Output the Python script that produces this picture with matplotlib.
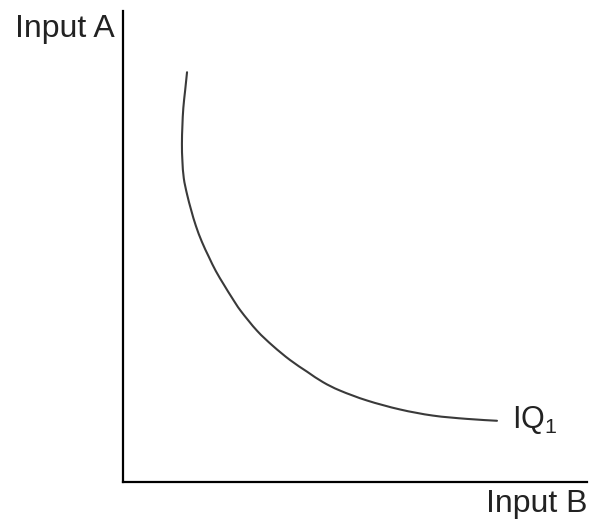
import matplotlib
matplotlib.use("Agg")
import matplotlib.pyplot as plt
import numpy as np
from matplotlib.path import Path
from matplotlib.patches import PathPatch

plt.rcParams['font.family'] = ['Liberation Sans', 'DejaVu Sans']
plt.rcParams['mathtext.fontset'] = 'custom'
plt.rcParams['mathtext.rm'] = 'Liberation Sans'
plt.rcParams['mathtext.it'] = 'Liberation Sans'

# Isoquant IQ1 (Input B on x, Input A on y), arbitrary units
input_b = [1.38, 1.34, 1.30, 1.28, 1.27, 1.28, 1.31, 1.38, 1.47, 1.57, 1.70, 1.85,
           2.00, 2.18, 2.35, 2.54, 2.89, 3.23, 3.60, 3.97, 4.31, 4.68, 5.26, 5.97,
           6.68, 7.41, 8.06]
input_a = [8.70, 8.32, 7.94, 7.56, 7.18, 6.82, 6.45, 6.11, 5.77, 5.44, 5.10, 4.78,
           4.48, 4.18, 3.91, 3.63, 3.21, 2.89, 2.59, 2.34, 2.12, 1.94, 1.73, 1.54,
           1.41, 1.34, 1.30]
curve_label = 'IQ$_\\mathregular{1}$'
x_label = 'Input B'
y_label = 'Input A'

fig = plt.figure(figsize=(5.94, 5.27), dpi=100)
ax = fig.add_axes([123 / 594, 45 / 527, 464 / 594, 471 / 527])
ax.set_xlim(0, 10)
ax.set_ylim(0, 10)

# smooth curve through the read points (Catmull-Rom rendered as cubic Beziers)
pts = np.column_stack([input_b, input_a])
verts = [pts[0]]
codes = [Path.MOVETO]
n = len(pts)
for i in range(n - 1):
    p0 = pts[max(i - 1, 0)]
    p1 = pts[i]
    p2 = pts[i + 1]
    p3 = pts[min(i + 2, n - 1)]
    c1 = p1 + (p2 - p0) / 6.0
    c2 = p2 - (p3 - p1) / 6.0
    verts += [c1, c2, p2]
    codes += [Path.CURVE4] * 3
ax.add_patch(PathPatch(Path(verts, codes), facecolor='none', edgecolor='#3a3a3a',
                       lw=1.5, capstyle='round'))

ax.annotate(curve_label, xy=(input_b[-1], input_a[-1]), xytext=(15, -7),
            textcoords='offset pixels', ha='left', va='baseline', fontsize=22,
            color='#222222')

for s in ['top', 'right']:
    ax.spines[s].set_visible(False)
for s in ['left', 'bottom']:
    ax.spines[s].set_linewidth(1.6)
    ax.spines[s].set_color('black')
ax.set_xticks([])
ax.set_yticks([])

ax.text(-0.017, 0.945, y_label, transform=ax.transAxes, ha='right', va='baseline',
        fontsize=23, color='#222222')
ax.text(1.0, -0.064, x_label, transform=ax.transAxes, ha='right', va='baseline',
        fontsize=23, color='#222222')

fig.savefig('out.png', dpi=100)
